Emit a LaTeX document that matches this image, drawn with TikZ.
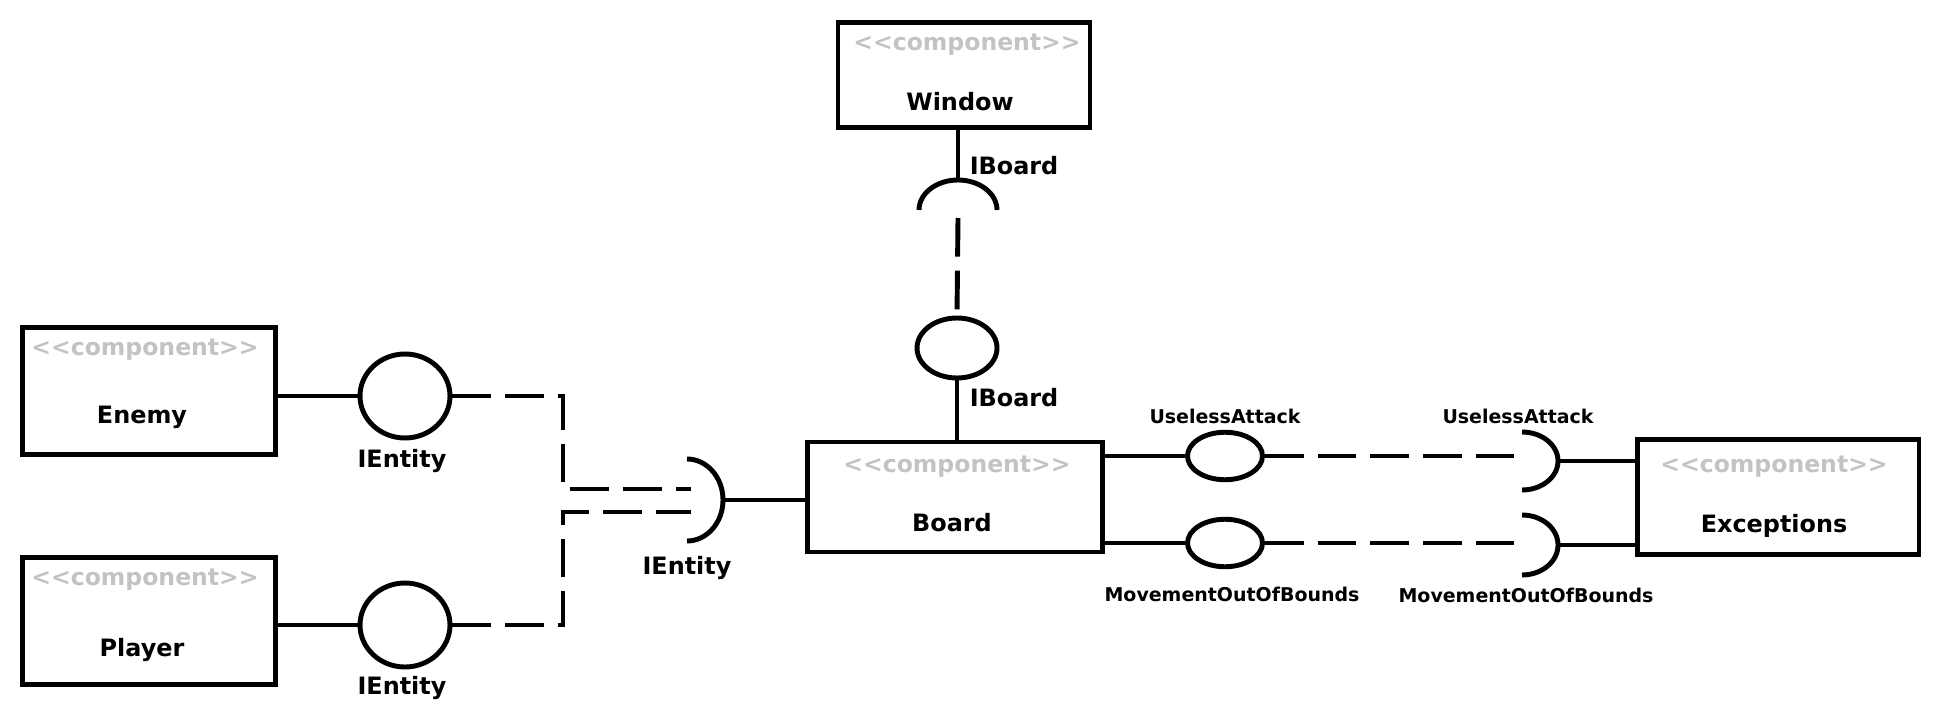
\documentclass[tikz,border=0pt]{standalone}
\usepackage{fontspec}
\newfontfamily\umlfont{DejaVu Sans}
\usetikzlibrary{shapes.geometric}
\definecolor{stereogray}{RGB}{195,195,195}

\tikzset{
  comp/.style={draw, rectangle, line width=2.8pt, inner sep=0pt},
  stereo/.style={text=stereogray, font=\umlfont\bfseries\fontsize{13.4}{15}\selectfont},
  cname/.style={font=\umlfont\bfseries\fontsize{13.6}{16}\selectfont},
  iname/.style={font=\umlfont\bfseries\fontsize{13.6}{16}\selectfont},
  ename/.style={font=\umlfont\bfseries\fontsize{10.8}{13}\selectfont},
  lolli/.style={draw, ellipse, line width=2.8pt, inner sep=0pt},
  wire/.style={line width=2.8pt},
  dwire/.style={line width=2.8pt, dash pattern=on 22pt off 8pt},
}

\begin{document}
\begin{tikzpicture}[x=0.02cm, y=-0.02cm]
    % Canvas
    \useasboundingbox (0,0) rectangle (1942,726);

    % Components
    \node[comp, minimum width=5.06cm, minimum height=2.54cm] (enemy) at (149,391) {};
    \node[comp, minimum width=5.06cm, minimum height=2.54cm] (player) at (149,621) {};
    \node[comp, minimum width=5.04cm, minimum height=2.1cm] (window) at (964,75) {};
    \node[comp, minimum width=5.9cm, minimum height=2.2cm] (board) at (955,497) {};
    \node[comp, minimum width=5.64cm, minimum height=2.3cm] (exceptions) at (1778,497) {};

    % Stereotypes
    \foreach \c/\x/\y in {enemy/145/350, player/145/580, window/967/45, board/957/467, exceptions/1774/467} {
        \node[stereo] (\c-st) at (\x,\y) {<<component>>};
    }

    % Component names
    \node[cname] (enemy-name) at (142,417) {Enemy};
    \node[cname] (player-name) at (142,650) {Player};
    \node[cname] (window-name) at (960,102) {Window};
    \node[cname] (board-name) at (952,523) {Board};
    \node[cname] (exceptions-name) at (1774,526) {Exceptions};

    % Provided interfaces
    \node[lolli, minimum width=1.8cm, minimum height=1.68cm] (ie1) at (405,396) {};
    \node[lolli, minimum width=1.8cm, minimum height=1.68cm] (ie2) at (405,625) {};
    \node[lolli, minimum width=1.6cm, minimum height=1.2cm] (ib) at (957,348) {};
    \node[lolli, minimum width=1.5cm, minimum height=0.95cm] (ua) at (1225,456) {};
    \node[lolli, minimum width=1.5cm, minimum height=0.95cm] (mb) at (1225,543) {};

    % Required interfaces
    \coordinate (sockE) at (723,500);
    \coordinate (sockEin) at (691,500);
    \coordinate (sockW) at (958,180);
    \coordinate (sockWin) at (958,218);
    \coordinate (sockU) at (1558,461);
    \coordinate (sockUin) at (1516,456);
    \coordinate (sockM) at (1558,545);
    \coordinate (sockMin) at (1516,543);
    \coordinate (jE) at (563,489);
    \coordinate (jP) at (563,512);

    \draw[wire] (sockE) arc[start angle=0, end angle=90, x radius=0.72cm, y radius=0.82cm]
                (sockE) arc[start angle=0, end angle=-90, x radius=0.72cm, y radius=0.82cm];
    \draw[wire] (sockW) arc[start angle=90, end angle=180, x radius=0.78cm, y radius=0.6cm]
                (sockW) arc[start angle=90, end angle=0, x radius=0.78cm, y radius=0.6cm];
    \draw[wire] (sockU) arc[start angle=0, end angle=90, x radius=0.72cm, y radius=0.58cm]
                (sockU) arc[start angle=0, end angle=-90, x radius=0.72cm, y radius=0.58cm];
    \draw[wire] (sockM) arc[start angle=0, end angle=90, x radius=0.72cm, y radius=0.6cm]
                (sockM) arc[start angle=0, end angle=-90, x radius=0.72cm, y radius=0.6cm];

    % Enemy / Player -> Board
    \draw[wire] (enemy.east |- ie1) -- (ie1.west);
    \draw[wire] (player.east |- ie2) -- (ie2.west);
    \draw[dwire] (ie1.east) -| (jE) -- (jE -| sockEin);
    \draw[dwire] (ie2.east) -| (jP) -- (jP -| sockEin);
    \draw[wire] (sockE) -- (board.west |- sockE);

    % Window -> Board
    \draw[wire] (sockW |- window.south) -- (sockW);
    \draw[dwire] (sockWin) -- (ib.north);
    \draw[wire] (ib.south) -- (ib.south |- board.north);

    % Board -> Exceptions
    \draw[wire] (board.east |- ua) -- (ua.west);
    \draw[wire] (board.east |- mb) -- (mb.west);
    \draw[dwire] (ua.east) -- (sockUin);
    \draw[dwire] (mb.east) -- (sockMin);
    \draw[wire] (sockU) -- (exceptions.west |- sockU);
    \draw[wire] (sockM) -- (exceptions.west |- sockM);

    % Interface labels
    \node[iname] (ie1-lbl) at (402,461) {IEntity};
    \node[iname] (ie2-lbl) at (402,688) {IEntity};
    \node[iname] (sockE-lbl) at (687,568) {IEntity};
    \node[iname] (sockW-lbl) at (1014,166) {IBoard};
    \node[iname] (ib-lbl) at (1014,398) {IBoard};
    \node[ename] (ua-lbl) at (1225,416) {UselessAttack};
    \node[ename] (sockU-lbl) at (1518,416) {UselessAttack};
    \node[ename] (mb-lbl) at (1232,594) {MovementOutOfBounds};
    \node[ename] (sockM-lbl) at (1526,595) {MovementOutOfBounds};
\end{tikzpicture}
\end{document}
